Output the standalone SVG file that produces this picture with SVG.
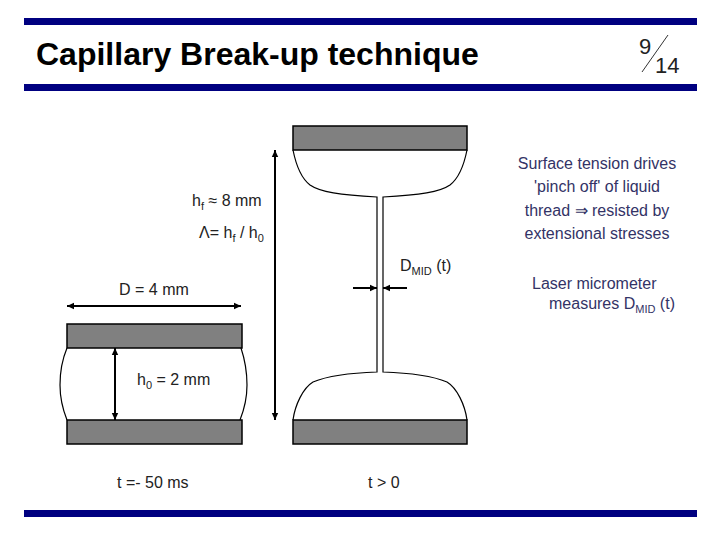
<svg xmlns="http://www.w3.org/2000/svg" width="720" height="540" viewBox="0 0 720 540">
<style>
text{font-family:"Liberation Sans",Arial,sans-serif;font-size:16px;fill:#222}
.r{fill:#333366;text-anchor:middle}
.l{fill:#333366}
.title{font-size:32px;font-weight:bold;fill:#000}
.num{font-size:22px}
.sub{font-size:11px}
.bar{fill:#000080}
.plate{fill:#808080;stroke:#000;stroke-width:1.5}
.liq{fill:none;stroke:#000;stroke-width:1.2}
.dim{fill:none;stroke:#000;stroke-width:2}
</style>
<defs>
<marker id="a" markerUnits="userSpaceOnUse" markerWidth="8" markerHeight="8" refX="7" refY="4" orient="auto-start-reverse"><path d="M0,0.8L7,4L0,7.2z" fill="#000"/></marker>
</defs>
<g id="header">
<rect class="bar" x="24" y="18" width="673" height="7"/>
<rect class="bar" x="24" y="84" width="673" height="7"/>
<text class="title" x="36" y="65">Capillary Break-up technique</text>
<text class="num" x="639" y="54">9</text>
<text class="num" x="655" y="73">14</text>
<path d="M668,35L642,72" stroke="#333" stroke-width="1" fill="none"/>
</g>
<g id="left-sample">
<path class="liq" d="M67,348C62,360 60,372 60,385C60,398 63,410 67,420M241,348C245,360 247,372 247,385C247,398 244,410 240,420"/>
<rect class="plate" x="67" y="324" width="175" height="24"/>
<rect class="plate" x="67" y="420" width="175" height="24"/>
<text x="119" y="295">D = 4 mm</text>
<text x="137" y="385">h<tspan class="sub" dy="4">0</tspan><tspan dy="-4"> = 2 mm</tspan></text>
<text x="117" y="488">t =- 50 ms</text>
</g>
<g id="right-sample">
<path class="liq" d="M293,150C296,165 301,178 310,185C320,192 340,195 377,197V372C345,373 325,377 313,382C303,388 295,405 293,420"/>
<path class="liq" d="M467,150C464,165 459,178 450,185C440,192 420,195 383,197V372C415,373 435,377 447,382C457,388 465,405 467,420"/>
<rect class="plate" x="293" y="126" width="174" height="24"/>
<rect class="plate" x="293" y="420" width="174" height="24"/>
<text x="192" y="206">h<tspan class="sub" dy="4">f</tspan><tspan dy="-4"> ≈ 8 mm</tspan></text>
<text x="199" y="238">Λ= h<tspan class="sub" dy="4">f</tspan><tspan dy="-4"> / h</tspan><tspan class="sub" dy="4">0</tspan></text>
<text x="400" y="271">D<tspan class="sub" dy="4">MID</tspan><tspan dy="-4"> (t)</tspan></text>
<text x="368" y="488">t &gt; 0</text>
</g>
<g id="connectors">
<path class="dim" d="M275,150V420" marker-start="url(#a)" marker-end="url(#a)"/>
<path class="dim" d="M67,306H241" marker-start="url(#a)" marker-end="url(#a)"/>
<path class="dim" d="M115,348V420" marker-start="url(#a)" marker-end="url(#a)"/>
<path class="dim" d="M353,288H377" marker-end="url(#a)"/>
<path class="dim" d="M407,288H383" marker-end="url(#a)"/>
</g>
<g id="notes">
<text class="r" x="597" y="169">Surface tension drives</text>
<text class="r" x="597" y="192">'pinch off' of liquid</text>
<text class="r" x="597" y="216">thread ⇒ resisted by</text>
<text class="r" x="597" y="239">extensional stresses</text>
<text class="l" x="532" y="289">Laser micrometer</text>
<text class="l" x="549" y="309">measures D<tspan class="sub" dy="4">MID</tspan><tspan dy="-4"> (t)</tspan></text>
</g>
<rect id="footer" class="bar" x="24" y="510" width="673" height="7"/>
</svg>
